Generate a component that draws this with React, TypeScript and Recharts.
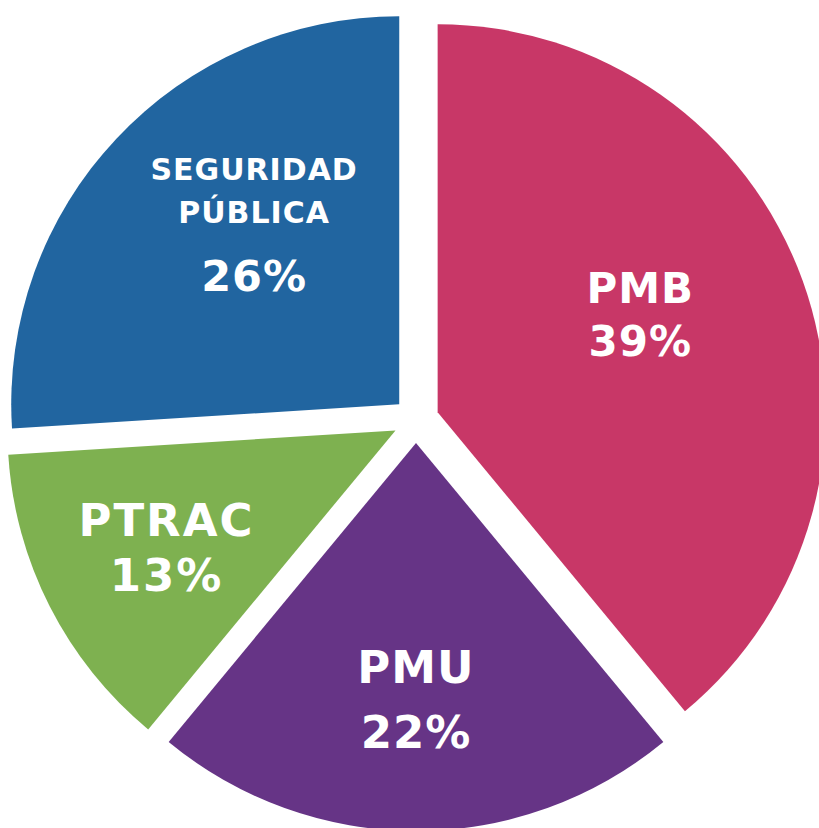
import { PieChart, Pie, Cell, Sector, Tooltip } from "recharts";

const CATEGORIES = ["PMB", "PMU", "PTRAC", "SEGURIDAD PÚBLICA"];
const VALUES = [39, 22, 13, 26];
const COLORS = ["#C83767", "#663486", "#7EB150", "#2165A0"];

const RADIAN = Math.PI / 180;
const EXPLODE = 23;
const CAP = 0.73;
const FONT = "'DejaVu Sans', sans-serif";

// label placement per slice: distance from centre, angle tweak, line sizes and baseline gaps
const LABEL_LAYOUT = [
  { r: 248, shift: 5.5, sizes: [42, 42], gaps: [53], spacing: 1 },
  { r: 279, shift: 0, sizes: [45, 45], gaps: [65], spacing: 1 },
  { r: 280, shift: 0, sizes: [45, 45], gaps: [55], spacing: 2 },
  { r: 254, shift: -7.2, sizes: [30, 30, 43], gaps: [43, 68], spacing: 1 },
];

const data = CATEGORIES.map((name, i) => ({ name, value: VALUES[i] }));

const ExplodedSector = (props: any) => {
  const { cx, cy, midAngle } = props;
  const dx = EXPLODE * Math.cos(-midAngle * RADIAN);
  const dy = EXPLODE * Math.sin(-midAngle * RADIAN);
  return <Sector {...props} cx={cx + dx} cy={cy + dy} />;
};

const renderLabel = (props: any) => {
  const { cx, cy, midAngle, index } = props;
  const L = LABEL_LAYOUT[index];
  const a = (midAngle + L.shift) * RADIAN;
  const x = cx + L.r * Math.cos(a);
  const y = cy - L.r * Math.sin(a);
  const lines = [...CATEGORIES[index].split(" "), `${VALUES[index]}%`];
  const baselines = [0];
  L.gaps.forEach((g, i) => baselines.push(baselines[i] + g));
  const top = -L.sizes[0] * CAP;
  const bottom = baselines[baselines.length - 1];
  const off = y - (top + bottom) / 2;
  return (
    <text
      key={`label-${index}`}
      textAnchor="middle"
      fill="#ffffff"
      fontFamily={FONT}
      fontWeight="bold"
      letterSpacing={L.spacing}
    >
      {lines.map((t, i) => (
        <tspan key={i} x={x} y={off + baselines[i]} fontSize={L.sizes[i]}>
          {t}
        </tspan>
      ))}
    </text>
  );
};

export default function App() {
  return (
    <div style={{ position: "absolute", left: 0, top: 0, background: "#fff" }}>
      <PieChart width={819} height={828} margin={{ top: 0, right: 0, bottom: 0, left: 0 }}>
        <Pie
          data={data}
          dataKey="value"
          nameKey="name"
          cx={416}
          cy={420}
          outerRadius={388}
          startAngle={90}
          endAngle={-270}
          stroke="none"
          labelLine={false}
          label={renderLabel}
          shape={ExplodedSector}
          activeShape={ExplodedSector}
          inactiveShape={ExplodedSector}
          isAnimationActive={false}
        >
          {data.map((_, index) => (
            <Cell key={`cell-${index}`} fill={COLORS[index]} />
          ))}
        </Pie>
        <Tooltip defaultIndex={0} content={() => null} cursor={false} />
      </PieChart>
    </div>
  );
}
